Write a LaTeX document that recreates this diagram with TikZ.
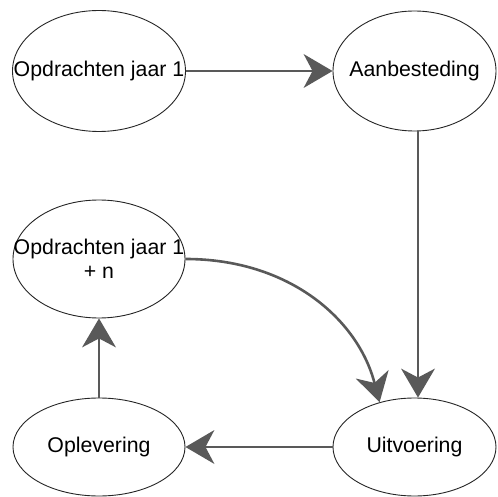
\documentclass[tikz,border=0pt]{standalone}
\usepackage{fontspec}
\setmainfont{Liberation Sans}
\usetikzlibrary{shapes.geometric,arrows.meta}
\definecolor{edgegray}{HTML}{595959}
% zero-width line so the ellipse size comes only from minimum width/height
\newcommand{\zline}[1]{\makebox[0pt]{#1}}
\tikzset{
  stage/.style={ellipse, draw=black!85, line width=0.9pt, fill=white,
    inner sep=0pt, align=center, font=\fontsize{21.3}{24}\selectfont},
  flow/.style={draw=edgegray, line width=2.6pt,
    -{Stealth[length=29pt 0 0, width=34pt 0 0, inset=9pt 0 0, line width=0pt]}}
}
\begin{document}
\begin{tikzpicture}[x=1pt, y=-1pt]
  \useasboundingbox[fill=white] (0,0) rectangle (498,497);

  \node[stage, minimum width=173pt, minimum height=121pt] (opd1) at (99,71) {\zline{Opdrachten jaar 1}};
  \node[stage, minimum width=163pt, minimum height=120pt] (aanb) at (414.5,71) {\zline{Aanbesteding}};
  \node[stage, minimum width=172pt, minimum height=118pt] (opdn) at (99,259) {\zline{Opdrachten jaar 1}\\\zline{+ n}};
  \node[stage, minimum width=172pt, minimum height=98pt] (oplev) at (99,447) {\zline{Oplevering}};
  \node[stage, minimum width=163pt, minimum height=98pt] (uitv) at (414.5,447) {\zline{Uitvoering}};

  \draw[flow] (opd1.east) -- (aanb.west);
  \draw[flow] ([xshift=3.5pt]aanb.south) -- ([xshift=3.5pt]uitv.north);
  \draw[flow] (opdn.east) .. controls (290,259) and (358,320) .. (uitv.128);
  \draw[flow] (uitv.west) -- (oplev.east);
  \draw[flow] (oplev.north) -- (opdn.south);
\end{tikzpicture}
\end{document}
